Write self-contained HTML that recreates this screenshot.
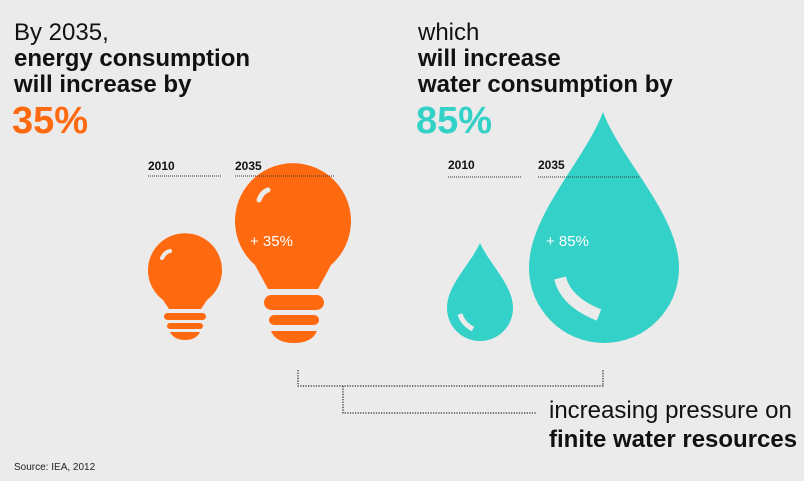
<!DOCTYPE html>
<html><head><meta charset="utf-8"><style>
body{margin:0;width:804px;height:487px;background:#fff;overflow:hidden}
svg{display:block}
text{font-family:"Liberation Sans",sans-serif}
</style></head><body>
<svg width="804" height="487" viewBox="0 0 804 487">
<rect width="804" height="481" fill="#ebebeb"/>
<g font-size="24" fill="#111">
<text x="14" y="40">By 2035,</text>
<text x="14" y="66" font-weight="bold">energy consumption</text>
<text x="14" y="92" font-weight="bold">will increase by</text>
<text x="12" y="133" font-weight="bold" font-size="38" fill="#ff6a10">35%</text>
</g>
<g font-size="24" fill="#111">
<text x="418" y="40">which</text>
<text x="418" y="66" font-weight="bold">will increase</text>
<text x="418" y="92" font-weight="bold">water consumption by</text>
<text x="416" y="133" font-weight="bold" font-size="38" fill="#33d1c8">85%</text>
</g>
<g font-size="12" font-weight="bold" fill="#111">
<text x="148" y="170">2010</text>
<text x="235" y="170">2035</text>
<text x="448" y="169">2010</text>
<text x="538" y="169">2035</text>
</g>
<!-- small bulb -->
<g fill="#ff6a10">
<path d="M163,300 A37,37 0 1 1 207,300 L201,309 L169,309 Z"/>
<rect x="164" y="313" width="42" height="7" rx="3.5"/>
<rect x="167" y="323" width="36" height="6" rx="3"/>
<path d="M170,332 H200 Q196,340 185,340 Q174,340 170,332 Z"/>
<path d="M162,258 Q165,252 170,251" stroke="#ebebeb" stroke-width="4" fill="none" stroke-linecap="round"/>
</g>
<!-- big bulb -->
<g fill="#ff6a10">
<path d="M255,265 A58,58 0 1 1 331,265 L318,289 L268,289 Z"/>
<rect x="264" y="295" width="60" height="15" rx="7.5"/>
<rect x="269" y="315" width="50" height="10" rx="5"/>
<path d="M271,331 H317 Q312,343 294,343 Q276,343 271,331 Z"/>
<path d="M259,200 Q262,192 268,190" stroke="#ebebeb" stroke-width="5" fill="none" stroke-linecap="round"/>
<text x="250" y="246" font-size="15" fill="#fff">+ 35%</text>
</g>
<!-- small drop -->
<g>
<path d="M480,243 C470,265 447,285 447,308 A33,33 0 0 0 513,308 C513,285 490,265 480,243 Z" fill="#33d1c8"/>
<path d="M460,314 Q463,324 473,329" stroke="#ebebeb" stroke-width="5" fill="none"/>
</g>
<!-- big drop -->
<g>
<path d="M603,112 C585,160 529,215 529,268 A75,75 0 0 0 679,268 C679,215 621,160 603,112 Z" fill="#33d1c8"/>
<path d="M560,278 Q566,302 599,315" stroke="#ebebeb" stroke-width="12" fill="none"/>
<text x="546" y="246" font-size="15" fill="#fff">+ 85%</text>
</g>
<g stroke="#333" stroke-width="1" stroke-dasharray="1,1">
<line x1="148" y1="176" x2="222" y2="176"/>
<line x1="235" y1="176" x2="335" y2="176"/>
<line x1="448" y1="177" x2="522" y2="177"/>
<line x1="538" y1="177" x2="640" y2="177"/>
</g>
<g stroke="#333" stroke-width="1.3" stroke-dasharray="1.3,1.3" fill="none">
<path d="M298,370 V386 H603 V370"/>
<path d="M343,386 V413 H537"/>
</g>
<text x="549" y="418" font-size="24" fill="#111">increasing pressure on</text>
<text x="549" y="447" font-size="24" font-weight="bold" fill="#111">finite water resources</text>
<text x="14" y="470" font-size="10" fill="#222">Source: IEA, 2012</text>
</svg>
</body></html>
